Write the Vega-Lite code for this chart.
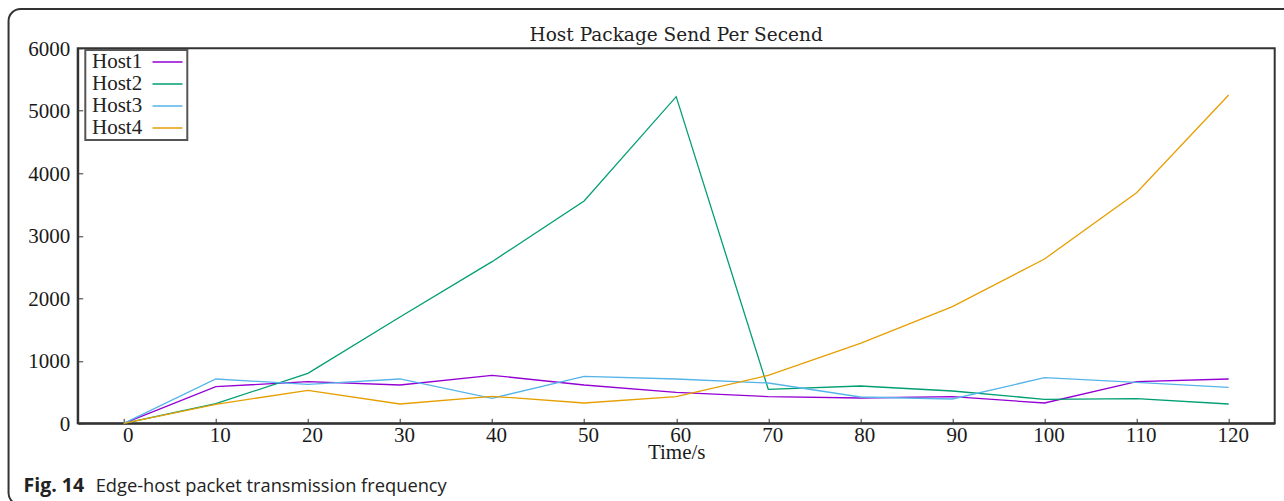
{
  "$schema": "https://vega.github.io/schema/vega-lite/v6.json",
  "width": 1197,
  "height": 375,
  "autosize": {"type": "none"},
  "padding": {"left": 77.7, "top": 48.3, "right": 9.3, "bottom": 77.7},
  "background": "white",
  "title": {
    "text": "Host Package Send Per Secend",
    "font": "DejaVu Serif",
    "fontSize": 18.5,
    "fontWeight": "normal",
    "color": "#222222",
    "anchor": "middle",
    "offset": 6,
    "dy": 43
  },
  "config": {
    "view": {"stroke": "#333333", "strokeWidth": 2},
    "axis": {
      "labelFont": "Liberation Serif",
      "labelFontSize": 21,
      "labelColor": "#1a1a1a",
      "titleFont": "Liberation Serif",
      "titleFontSize": 21,
      "titleFontWeight": "normal",
      "titleColor": "#1a1a1a",
      "domainColor": "#333333",
      "domainWidth": 2,
      "gridColor": "#e2e2e2",
      "gridWidth": 1,
      "tickColor": "#333333",
      "tickSize": -5,
      "tickWidth": 1
    },
    "legend": {
      "orient": "none",
      "legendX": 7.6,
      "legendY": 1.7,
      "symbolType": "M-3,0H3",
      "symbolSize": 100,
      "symbolStrokeWidth": 1.5,
      "labelFont": "Liberation Serif",
      "labelFontSize": 21,
      "labelColor": "#222222",
      "labelLimit": 0,
      "strokeColor": "#555555",
      "strokeWidth": 2,
      "fillColor": "white",
      "padding": 1.5,
      "rowPadding": 0,
      "labelOffset": -86,
      "symbolOffset": 70.2
    }
  },
  "layer": [
    {
      "data": {"values": [{}]},
      "mark": {"type": "rect", "fill": "transparent", "stroke": "#333333", "strokeWidth": 2, "cornerRadius": 12},
      "encoding": {
        "x": {"datum": -12.51, "type": "quantitative", "scale": {"domain": [-5, 125], "nice": false}},
        "x2": {"datum": 130},
        "y": {"datum": 6629, "type": "quantitative", "scale": {"domain": [0, 6000], "nice": false}},
        "y2": {"datum": -1307}
      }
    },
    {
      "data": {
        "values": [
          {"time": 0, "host": "Host1", "packets": 0},
          {"time": 10, "host": "Host1", "packets": 586},
          {"time": 20, "host": "Host1", "packets": 666},
          {"time": 30, "host": "Host1", "packets": 613},
          {"time": 40, "host": "Host1", "packets": 768},
          {"time": 50, "host": "Host1", "packets": 613},
          {"time": 60, "host": "Host1", "packets": 496},
          {"time": 70, "host": "Host1", "packets": 426},
          {"time": 80, "host": "Host1", "packets": 405},
          {"time": 90, "host": "Host1", "packets": 426},
          {"time": 100, "host": "Host1", "packets": 325},
          {"time": 110, "host": "Host1", "packets": 666},
          {"time": 120, "host": "Host1", "packets": 709},
          {"time": 0, "host": "Host2", "packets": 0},
          {"time": 10, "host": "Host2", "packets": 314},
          {"time": 20, "host": "Host2", "packets": 800},
          {"time": 30, "host": "Host2", "packets": 1700},
          {"time": 40, "host": "Host2", "packets": 2586},
          {"time": 50, "host": "Host2", "packets": 3557},
          {"time": 60, "host": "Host2", "packets": 5226},
          {"time": 70, "host": "Host2", "packets": 544},
          {"time": 80, "host": "Host2", "packets": 597},
          {"time": 90, "host": "Host2", "packets": 517},
          {"time": 100, "host": "Host2", "packets": 384},
          {"time": 110, "host": "Host2", "packets": 394},
          {"time": 120, "host": "Host2", "packets": 309},
          {"time": 0, "host": "Host3", "packets": 0},
          {"time": 10, "host": "Host3", "packets": 709},
          {"time": 20, "host": "Host3", "packets": 624},
          {"time": 30, "host": "Host3", "packets": 709},
          {"time": 40, "host": "Host3", "packets": 400},
          {"time": 50, "host": "Host3", "packets": 752},
          {"time": 60, "host": "Host3", "packets": 709},
          {"time": 70, "host": "Host3", "packets": 645},
          {"time": 80, "host": "Host3", "packets": 421},
          {"time": 90, "host": "Host3", "packets": 389},
          {"time": 100, "host": "Host3", "packets": 730},
          {"time": 110, "host": "Host3", "packets": 656},
          {"time": 120, "host": "Host3", "packets": 576},
          {"time": 0, "host": "Host4", "packets": 0},
          {"time": 10, "host": "Host4", "packets": 304},
          {"time": 20, "host": "Host4", "packets": 528},
          {"time": 30, "host": "Host4", "packets": 309},
          {"time": 40, "host": "Host4", "packets": 432},
          {"time": 50, "host": "Host4", "packets": 325},
          {"time": 60, "host": "Host4", "packets": 426},
          {"time": 70, "host": "Host4", "packets": 768},
          {"time": 80, "host": "Host4", "packets": 1280},
          {"time": 90, "host": "Host4", "packets": 1866},
          {"time": 100, "host": "Host4", "packets": 2629},
          {"time": 110, "host": "Host4", "packets": 3690},
          {"time": 120, "host": "Host4", "packets": 5253}
        ]
      },
      "mark": {"type": "line", "strokeWidth": 1.3},
      "encoding": {
        "x": {
          "field": "time",
          "type": "quantitative",
          "scale": {"domain": [-5, 125], "nice": false},
          "axis": {
            "values": [0, 10, 20, 30, 40, 50, 60, 70, 80, 90, 100, 110, 120],
            "title": "Time/s",
            "titleBaseline": "alphabetic",
            "titleY": 35.5,
            "labelOffset": 4,
            "labelPadding": 6,
            "labelBaseline": "top"
          }
        },
        "y": {
          "field": "packets",
          "type": "quantitative",
          "scale": {"domain": [0, 6000], "nice": false},
          "axis": {
            "values": [0, 1000, 2000, 3000, 4000, 5000, 6000],
            "format": "d",
            "title": null,
            "labelPadding": 13,
            "labelOffset": 1
          }
        },
        "color": {
          "field": "host",
          "type": "nominal",
          "scale": {"domain": ["Host1", "Host2", "Host3", "Host4"], "range": ["#9400d3", "#009e73", "#56b4e9", "#e69f00"]},
          "legend": {"title": null}
        }
      }
    },
    {
      "data": {"values": [{}]},
      "mark": {"type": "text", "text": "Fig. 14", "font": "Open Sans", "fontSize": 19.5, "fontWeight": "bold", "color": "#222222", "align": "left", "baseline": "alphabetic"},
      "encoding": {
        "x": {"datum": -10.88},
        "y": {"datum": -1094}
      }
    },
    {
      "data": {"values": [{}]},
      "mark": {"type": "text", "text": "Edge-host packet transmission frequency", "font": "Open Sans", "fontSize": 18.3, "fontWeight": "normal", "color": "#222222", "align": "left", "baseline": "alphabetic"},
      "encoding": {
        "x": {"datum": -3.05},
        "y": {"datum": -1094}
      }
    }
  ]
}
